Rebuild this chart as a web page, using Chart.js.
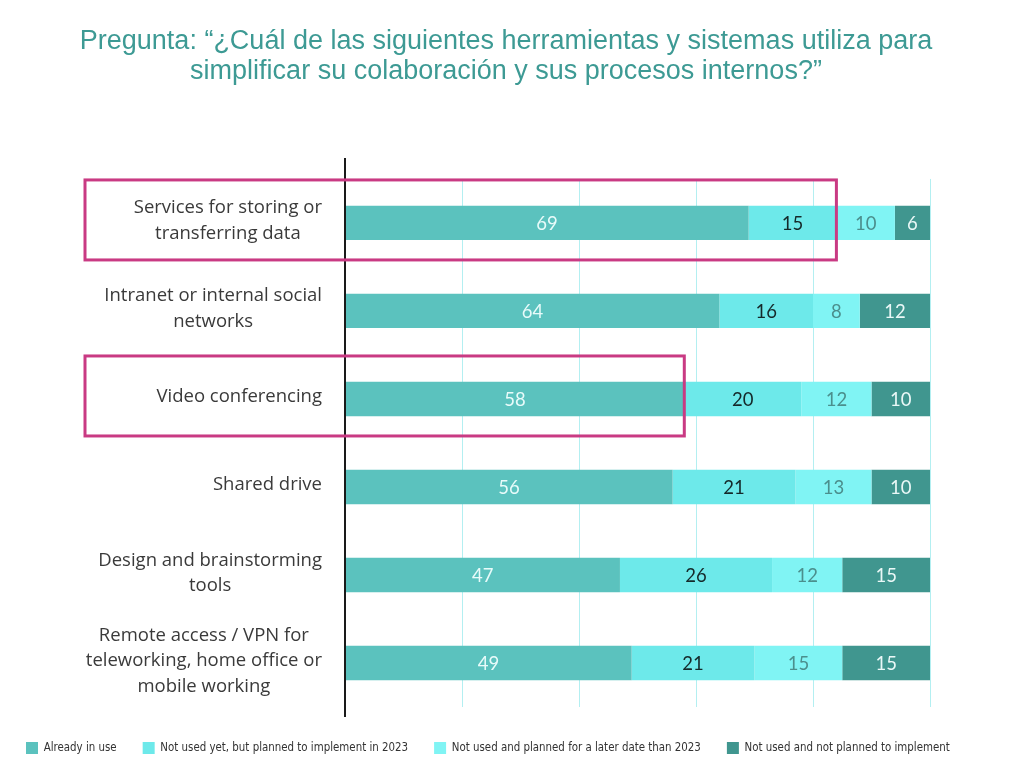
<!DOCTYPE html>
<html>
<head>
<meta charset="utf-8">
<script src="https://cdn.jsdelivr.net/npm/chart.js@4"></script>
<style>
  html, body { margin: 0; padding: 0; background: #fff; }
  #wrap { width: 1012px; height: 784px; }
</style>
</head>
<body>
<div id="wrap"><canvas id="chart" width="1012" height="784"></canvas></div>
<script>
/* ---------- Data ---------- */
const categories = [
  ['Services for storing or', 'transferring data'],
  ['Intranet or internal social', 'networks'],
  ['Video conferencing'],
  ['Shared drive'],
  ['Design and brainstorming', 'tools'],
  ['Remote access / VPN for', 'teleworking, home office or', 'mobile working']
];
const seriesNames = [
  'Already in use',
  'Not used yet, but planned to implement in 2023',
  'Not used and planned for a later date than 2023',
  'Not used and not planned to implement'
];
const alreadyInUse   = [69, 64, 58, 56, 47, 49];
const planned2023    = [15, 16, 20, 21, 26, 21];
const plannedLater   = [10,  8, 12, 13, 12, 15];
const notPlanned     = [ 6, 12, 10, 10, 15, 15];
const xTicks = [0, 20, 40, 60, 80, 100];

// highlighted rows (category index, value where the box ends)
const highlightRows = [0, 2];
const highlightEnds = [84, 58];

/* ---------- Styles ---------- */
const barColors   = ['#5bc2be', '#6de9ea', '#80f4f4', '#40968f'];
const labelColors = ['#e8fbfa', '#15292a', '#4b8f8d', '#eaf8f7'];
const catFont = '18.5px "Open Sans", sans-serif';

/* ---------- Plugins ---------- */
const valueLabels = {
  id: 'valueLabels',
  afterDatasetsDraw(chart) {
    const ctx = chart.ctx;
    ctx.save();
    ctx.font = '18.5px Lato, "Open Sans", sans-serif';
    ctx.textAlign = 'center';
    ctx.textBaseline = 'middle';
    chart.data.datasets.forEach((ds, i) => {
      const meta = chart.getDatasetMeta(i);
      meta.data.forEach((bar, j) => {
        const p = bar.getCenterPoint();
        ctx.fillStyle = labelColors[i];
        ctx.fillText(String(ds.data[j]), p.x, p.y + 1);
      });
    });
    ctx.restore();
  }
};

// category labels: block right-aligned to the axis, lines centred in the block
const categoryLabels = {
  id: 'categoryLabels',
  afterDraw(chart) {
    const ctx = chart.ctx, y = chart.scales.y;
    const right = chart.chartArea.left - 23;
    const lh = 25.5;
    ctx.save();
    ctx.font = catFont;
    ctx.fillStyle = '#3a3a3a';
    ctx.textAlign = 'center';
    ctx.textBaseline = 'middle';
    categories.forEach((lines, i) => {
      const w = Math.max(...lines.map(t => ctx.measureText(t).width));
      const cx = right - w / 2;
      const cy = y.getPixelForValue(i) - 2;
      const y0 = cy - (lines.length - 1) * lh / 2;
      lines.forEach((t, k) => ctx.fillText(t, cx, y0 + k * lh));
    });
    ctx.restore();
  }
};

const axisAndBoxes = {
  id: 'axisAndBoxes',
  afterDraw(chart) {
    const ctx = chart.ctx, a = chart.chartArea;
    const x = chart.scales.x, y = chart.scales.y;
    ctx.save();
    ctx.strokeStyle = '#1a1a1a';
    ctx.lineWidth = 2;
    ctx.beginPath();
    ctx.moveTo(a.left, a.top - 21);
    ctx.lineTo(a.left, a.bottom + 10);
    ctx.stroke();
    ctx.strokeStyle = '#c93a83';
    ctx.lineWidth = 3;
    highlightRows.forEach((row, k) => {
      const cy = y.getPixelForValue(row);
      const r = x.getPixelForValue(highlightEnds[k]);
      ctx.strokeRect(85, cy - 43, r - 85, 80);
    });
    ctx.restore();
  }
};

/* ---------- Chart ---------- */
window.onload = function () {
  const ctx = document.getElementById('chart').getContext('2d');
  const allSeries = [alreadyInUse, planned2023, plannedLater, notPlanned];

  new Chart(ctx, {
    type: 'bar',
    data: {
      labels: categories.map(l => l.join(' ')),
      datasets: allSeries.map((d, i) => ({
        label: seriesNames[i],
        data: d,
        backgroundColor: barColors[i],
        borderWidth: 0,
        categoryPercentage: 1,
        barPercentage: 0.39
      }))
    },
    options: {
      indexAxis: 'y',
      responsive: false,
      animation: false,
      layout: { padding: { left: 0, right: 0, top: 0, bottom: 20 } },
      scales: {
        x: {
          stacked: true,
          min: 0, max: 100,
          afterBuildTicks(scale) { scale.ticks = xTicks.map(v => ({ value: v })); },
          ticks: { display: false },
          grid: { color: '#b3eff1', lineWidth: 1, drawTicks: false },
          border: { display: false },
          title: { display: true, text: '', font: { size: 8, lineHeight: 1 }, padding: { top: 1, bottom: 0 } }
        },
        y: {
          stacked: true,
          afterFit(scale) { scale.width = 345; },
          ticks: { display: false },
          grid: { display: false, drawTicks: false },
          border: { display: false }
        },
        yRight: {
          type: 'linear',
          position: 'right',
          afterFit(scale) { scale.width = 82; },
          ticks: { display: false },
          grid: { display: false, drawTicks: false },
          border: { display: false }
        }
      },
      plugins: {
        title: {
          display: true,
          text: ['Pregunta: \u201c\u00bfCu\u00e1l de las siguientes herramientas y sistemas utiliza para',
                 'simplificar su colaboraci\u00f3n y sus procesos internos?\u201d'],
          color: '#3d9a94',
          font: { family: '"Liberation Sans", Arial, sans-serif', size: 27, weight: 'normal', lineHeight: 1.11 },
          padding: { top: 27, bottom: 92 }
        },
        legend: {
          position: 'bottom',
          align: 'start',
          labels: {
            boxWidth: 12, boxHeight: 12,
            padding: 26,
            color: '#333',
            font: { family: '"DejaVu Sans Condensed", "Liberation Sans Narrow", sans-serif', size: 11.4 }
          }
        },
        tooltip: { enabled: false }
      }
    },
    plugins: [valueLabels, categoryLabels, axisAndBoxes]
  });
};
</script>
</body>
</html>
